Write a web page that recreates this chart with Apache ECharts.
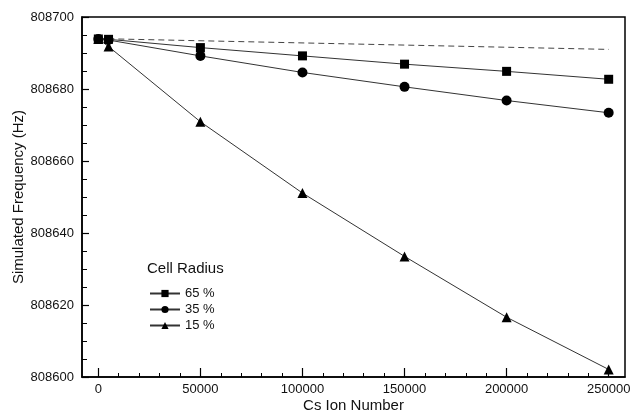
<!DOCTYPE html>
<html>
<head>
<meta charset="utf-8">
<script src="https://cdn.jsdelivr.net/npm/echarts@6/dist/echarts.min.js"></script>
<style>
html,body{margin:0;padding:0;background:#fff;}
#c{width:631px;height:415px;}
</style>
</head>
<body>
<div id="c"></div>
<script>
var ionNumbers = [0, 5000, 50000, 100000, 150000, 200000, 250000];
var radius65 = [808693.9, 808693.8, 808691.5, 808689.2, 808686.9, 808684.9, 808682.7];
var radius35 = [808693.9, 808693.6, 808689.2, 808684.6, 808680.6, 808676.8, 808673.4];
var radius15 = [808693.9, 808691.8, 808670.9, 808651.1, 808633.5, 808616.6, 808602.1];
var refX = [0, 250000];
var refY = [808694.0, 808691.0];
var seriesNames = ['65 %', '35 %', '15 %'];
var xMajorTicks = [0, 50000, 100000, 150000, 200000, 250000];
var xMinorTicks = [10000, 20000, 30000, 40000, 60000, 70000, 80000, 90000, 110000, 120000, 130000, 140000, 160000, 170000, 180000, 190000, 210000, 220000, 230000, 240000];

function pairs(xs, ys) { return xs.map(function (x, i) { return [x, ys[i]]; }); }
function plain(v) { return String(v); }

var font = 'Liberation Sans, Arial, Helvetica, sans-serif';
var chart = echarts.init(document.getElementById('c'));
chart.setOption({
  animation: false,
  backgroundColor: '#fff',
  grid: { left: 82, right: 6, top: 17, bottom: 38, outerBoundsMode: 'none', containLabel: false, show: true, borderColor: '#000', borderWidth: 1.5, backgroundColor: 'transparent' },
  legend: {
    data: seriesNames,
    orient: 'vertical',
    left: 144, top: 282,
    itemWidth: 30, itemHeight: 9, itemGap: 3,
    textStyle: { fontFamily: font, fontSize: 13, color: '#111' }
  },
  graphic: [{
    type: 'text', left: 147, top: 261,
    style: { text: 'Cell Radius', fontFamily: font, fontSize: 15, fill: '#111' }
  }],
  xAxis: [{
    type: 'value', min: -8000, max: 258000,
    name: 'Cs Ion Number', nameLocation: 'middle', nameGap: 21, nameMoveOverlap: false,
    nameTextStyle: { fontFamily: font, fontSize: 15, color: '#111' },
    axisLine: { onZero: false, lineStyle: { color: '#000', width: 1.5 } },
    axisTick: { inside: true, length: 9, customValues: xMajorTicks, lineStyle: { color: '#000', width: 1.2 } },
    axisLabel: { customValues: xMajorTicks, formatter: plain, fontFamily: font, fontSize: 13, color: '#111', margin: 6 },
    splitLine: { show: false }
  }, {
    type: 'value', min: -8000, max: 258000, position: 'bottom', offset: 0,
    axisLine: { show: false, onZero: false },
    axisTick: { inside: true, length: 4, customValues: xMinorTicks, lineStyle: { color: '#000', width: 1 } },
    axisLabel: { show: false },
    splitLine: { show: false }
  }],
  yAxis: {
    type: 'value', min: 808600, max: 808700, interval: 20,
    name: 'Simulated Frequency (Hz)', nameLocation: 'middle', nameGap: 56, nameMoveOverlap: false,
    nameTextStyle: { fontFamily: font, fontSize: 15, color: '#111' },
    axisLine: { onZero: false, lineStyle: { color: '#000', width: 1.5 } },
    axisTick: { inside: true, length: 7, lineStyle: { color: '#000', width: 1.2 } },
    minorTick: { show: true, splitNumber: 4, length: 5, lineStyle: { color: '#000', width: 1 } },
    axisLabel: { formatter: plain, fontFamily: font, fontSize: 13, color: '#111', margin: 8 },
    splitLine: { show: false }
  },
  series: [{
    name: 'ref', type: 'line', data: pairs(refX, refY), symbol: 'none',
    lineStyle: { color: '#444', width: 1, type: [6, 4] }, silent: true, z: 1
  }, {
    name: seriesNames[2], type: 'line', data: pairs(ionNumbers, radius15),
    symbol: 'triangle', symbolSize: 10,
    lineStyle: { color: '#333', width: 1 }, itemStyle: { color: '#000' }, z: 2
  }, {
    name: seriesNames[1], type: 'line', data: pairs(ionNumbers, radius35),
    symbol: 'circle', symbolSize: 10,
    lineStyle: { color: '#333', width: 1 }, itemStyle: { color: '#000' }, z: 3
  }, {
    name: seriesNames[0], type: 'line', data: pairs(ionNumbers, radius65),
    symbol: 'rect', symbolSize: 9,
    lineStyle: { color: '#333', width: 1 }, itemStyle: { color: '#000' }, z: 4
  }]
});
</script>
</body>
</html>
